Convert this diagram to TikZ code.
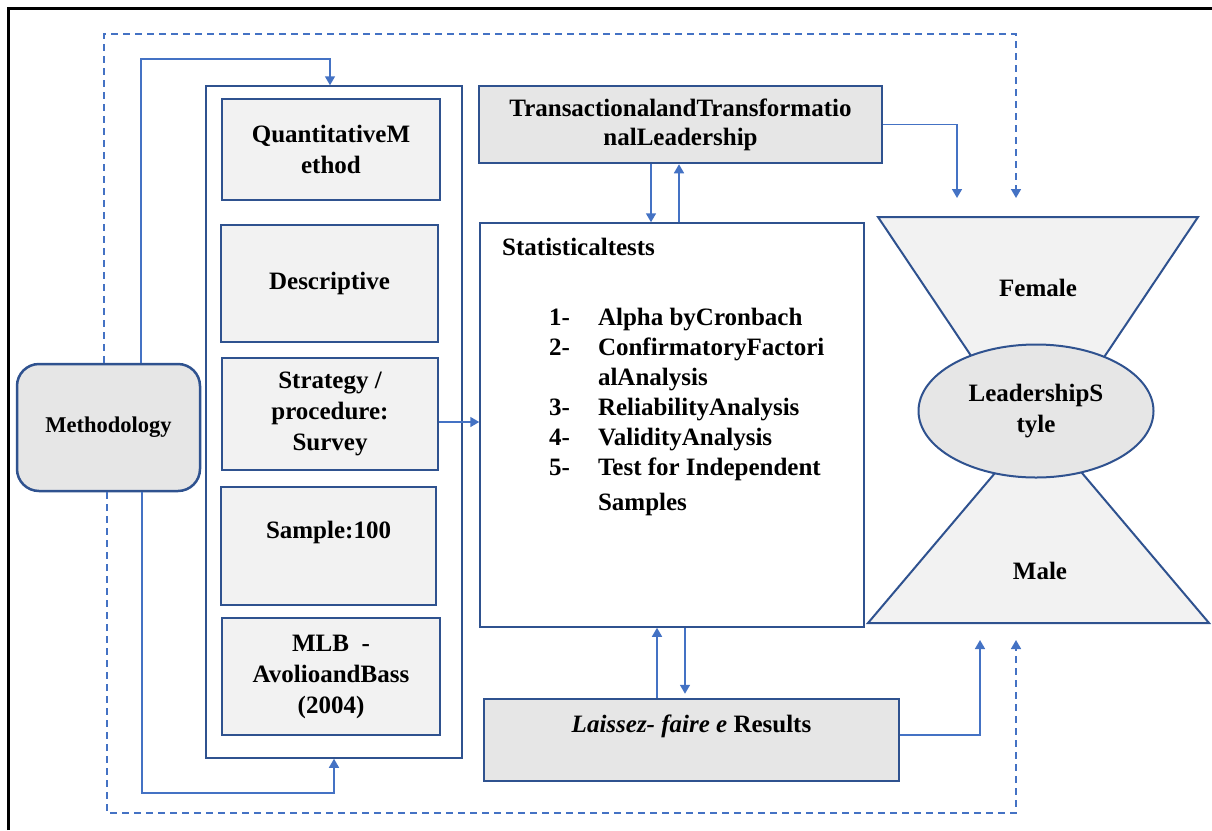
\documentclass[tikz,border=0pt]{standalone}
\usepackage{fontspec}
\setmainfont{Liberation Serif}
\newfontfamily\timesbold{Liberation Serif Bold}
\usetikzlibrary{arrows.meta,shapes.geometric}
\definecolor{boxblue}{HTML}{2F528F}
\definecolor{linkblue}{HTML}{4472C4}
\definecolor{lightfill}{HTML}{F2F2F2}
\definecolor{midfill}{HTML}{E6E6E6}

\begin{document}
\begin{tikzpicture}[x=1pt, y=-1pt,
    txt/.style={font=\fontsize{25}{31}\selectfont\bfseries, align=center, text=black},
    methodstep/.style={rectangle, txt, draw=boxblue, line width=2.5pt, fill=lightfill},
    topbox/.style={rectangle, txt, draw=boxblue, line width=2.5pt, fill=midfill},
    outerbox/.style={rectangle, draw=boxblue, line width=1.5pt, fill=white},
    arrow/.style={draw=linkblue, line width=1.6pt, -{Triangle[length=9pt,width=10pt]}},
    dasharrow/.style={arrow, dash pattern=on 7pt off 5pt}
]
\useasboundingbox (0,0) rectangle (1212,830);

% page frame
\draw[line width=3pt] (8,830) -- (8,8) -- (1212,8);

% Methodology and its steps
\node[topbox, rounded corners=22pt, minimum width=183pt, minimum height=127pt,
      font=\fontsize{22.5}{27}\selectfont\bfseries] (method) at (108.5,427.5) {Methodology};
\node[outerbox, minimum width=256pt, minimum height=672pt] (frame) at (334,422) {};
\node[methodstep, minimum width=218pt, minimum height=101pt] (quant) at (331,149.5) {QuantitativeM\\ethod};
\node[methodstep, minimum width=217pt, minimum height=117pt] (descr) at (329.5,283.5) {Descriptive};
\node[methodstep, minimum width=216pt, minimum height=112pt] (strat) at (330,414) {Strategy /\\procedure:\\Survey};
\node[methodstep, minimum width=215pt, minimum height=118pt,
      label={[txt, yshift=14pt]center:{Sample:100}}] (sample) at (328.5,546) {};
\node[methodstep, minimum width=218pt, minimum height=117pt] (mlb) at (331,676.5) {MLB \ -\\AvolioandBass\\(2004)};

% Leadership boxes and tests
\node[topbox, minimum width=403pt, minimum height=77pt,
      font=\fontsize{25}{29}\selectfont\bfseries] (trans) at (680.5,124.5) {TransactionalandTransformatio\\nalLeadership};
\node[outerbox, minimum width=384pt, minimum height=404pt] (stats) at (672,425) {};
\node[txt, anchor=base west, inner sep=0pt] (statstitle) at (502,255) {Statisticaltests};
\node[txt, anchor=base west, inner sep=0pt, font=\fontsize{25}{30}\selectfont\bfseries] (statslist) at (549,325) {%
  \begin{tabular}[t]{@{}l@{\hspace{28pt}}l@{}}
  1- & Alpha byCronbach\\
  2- & ConfirmatoryFactori\\
     & alAnalysis\\
  3- & ReliabilityAnalysis\\
  4- & ValidityAnalysis\\
  5- & Test for Independent\\[5pt]
     & Samples
  \end{tabular}};
\node[topbox, minimum width=415pt, minimum height=82pt,
      label={[txt, yshift=14pt]center:{\textit{Laissez- faire e} Results}}] (laissez) at (691.5,740) {};

% hourglass
\filldraw[fill=lightfill, draw=boxblue, line width=2pt] (878,217) -- (1198,217) -- (1072,405) -- (1004,405) -- cycle;
\filldraw[fill=lightfill, draw=boxblue, line width=2pt] (868,623) -- (1209,623) -- (1071,460) -- (1006,460) -- cycle;
\node[txt] (female) at (1038,288) {Female};
\node[txt] (male) at (1040,571) {Male};
\node[ellipse, txt, draw=boxblue, line width=2pt, fill=midfill, minimum width=235pt, minimum height=133pt, inner sep=0pt] (lstyle) at (1036,411) {LeadershipS\\tyle};
\coordinate (ftip) at (957,198);
\coordinate (fdash) at (1016,198);
\coordinate (mtip) at (980,640);
\coordinate (mdash) at (1016,640);

% connectors
\draw[arrow] ([xshift=32.5pt]method.north) |- ([xshift=-4pt,yshift=26pt]frame.north) -- ([xshift=-4pt]frame.north);
\draw[arrow] ([xshift=33.5pt]method.south) |- ([yshift=-34pt]frame.south) -- (frame.south);
\draw[dasharrow] ([xshift=-4.5pt]method.north) |- (fdash |- 0,34) -- (fdash);
\draw[dasharrow] ([xshift=-1.5pt]method.south) |- (mdash |- 0,813) -- (mdash);
\draw[arrow] ([yshift=-8pt]strat.east) -- ([yshift=-8pt]strat.east -| stats.west);
\draw[arrow] ([xshift=-29.5pt]trans.south) -- ([xshift=-29.5pt]trans.south |- stats.north);
\draw[arrow] ([xshift=-1.5pt]trans.south |- stats.north) -- ([xshift=-1.5pt]trans.south);
\draw[arrow] ([xshift=-34.5pt]laissez.north) -- ([xshift=-34.5pt]laissez.north |- stats.south);
\draw[arrow] ([xshift=-6.5pt]laissez.north |- stats.south) -- ([xshift=-6.5pt,yshift=4pt]laissez.north);
\draw[arrow] (trans.east) -| (ftip);
\draw[arrow] ([yshift=5pt]laissez.east) -| (mtip);

\end{tikzpicture}
\end{document}
